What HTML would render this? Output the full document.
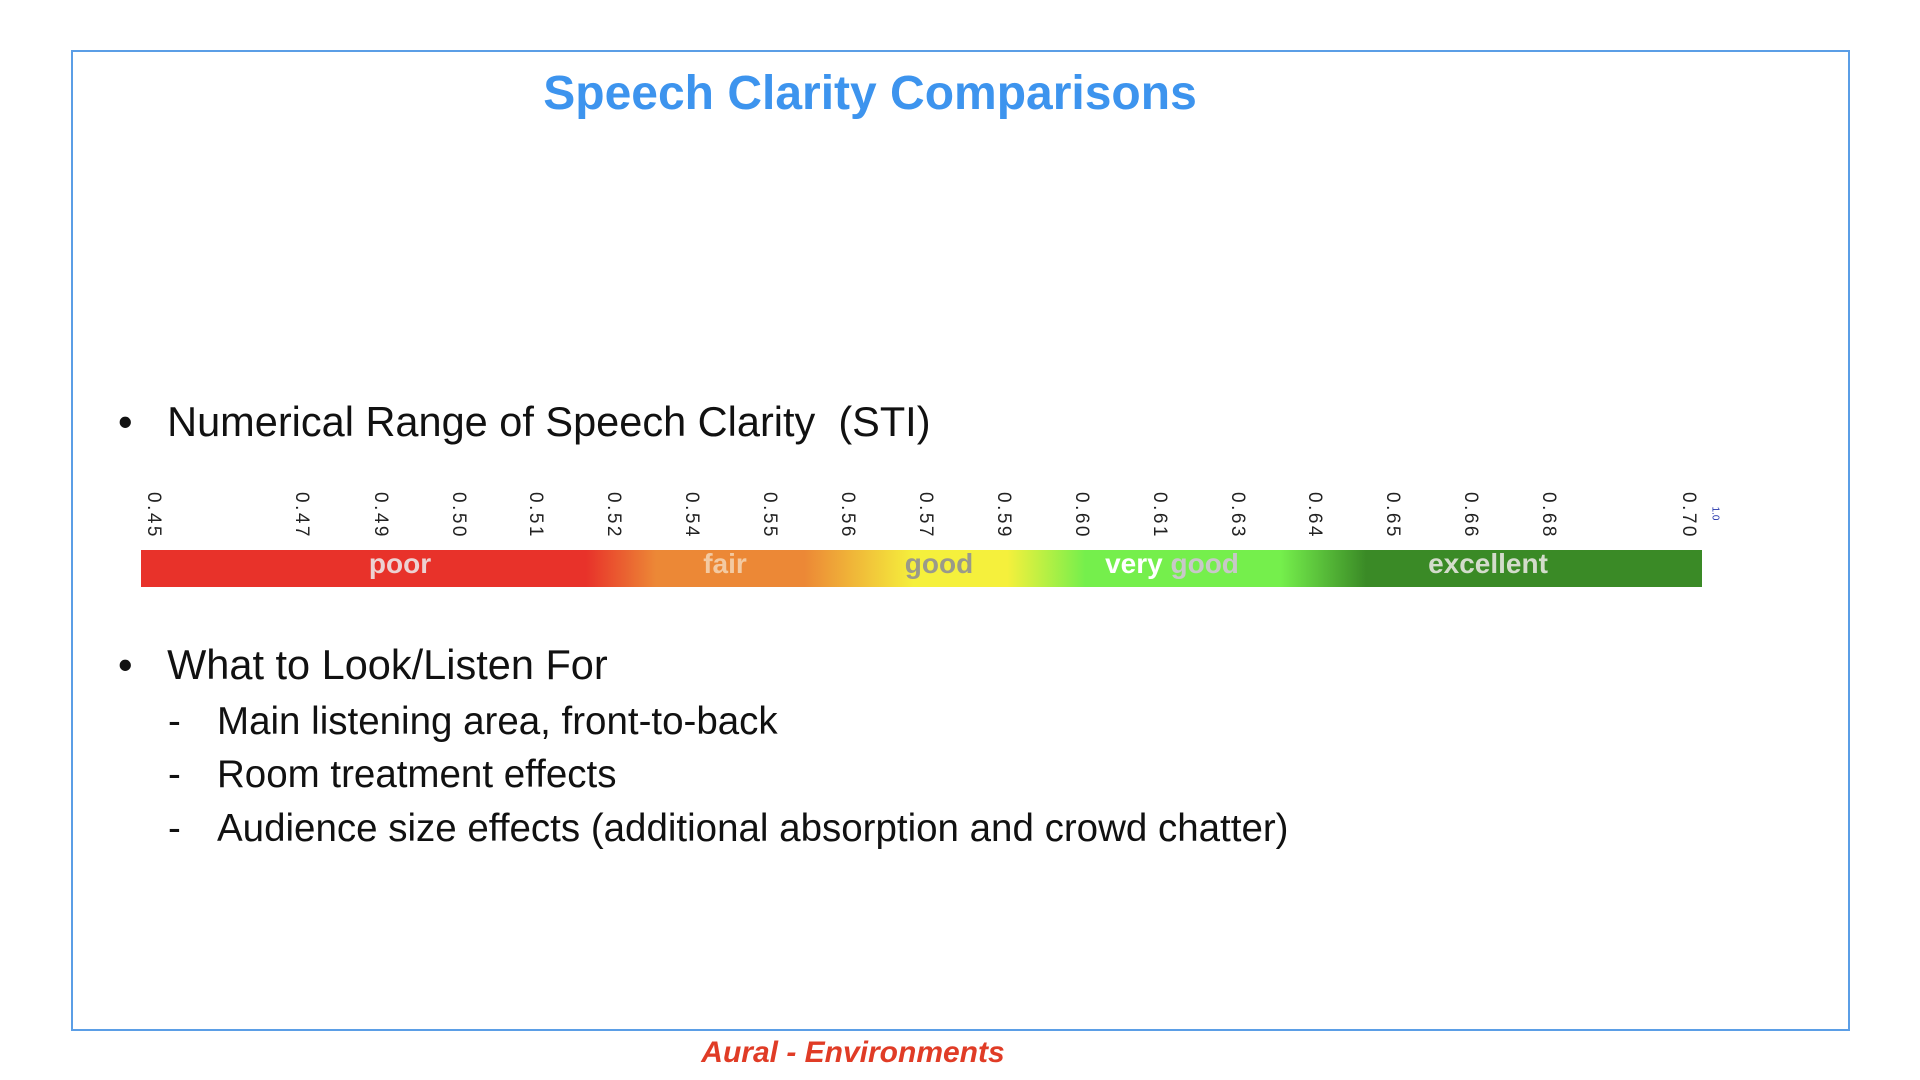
<!DOCTYPE html>
<html><head><meta charset="utf-8">
<style>
body{margin:0;width:1920px;height:1080px;background:#fff;font-family:"Liberation Sans",sans-serif;position:relative;overflow:hidden}
.abs{position:absolute}
#frame{left:71px;top:50px;width:1775px;height:977px;border:2px solid #5b9ee6}
#title{left:0;width:1740px;top:66px;text-align:center;font-weight:bold;font-size:48px;color:#3d94ee}
.b{font-size:41.5px;color:#111}
.s{font-size:38.5px;color:#111}
#bar{left:141px;top:550px;width:1561px;height:37px;background:linear-gradient(to right,#e8322a 0%,#e8322a 28.5%,#ec8836 33%,#ec8836 42.5%,#f5f03c 49.5%,#f5f03c 55.5%,#75ef4c 60.5%,#75ef4c 73%,#3a8a26 78.5%,#3a8a26 100%)}
.lab{top:548px;font-weight:bold;font-size:28px;transform:translateX(-50%);white-space:nowrap}
.tick{font-size:19px;color:#222;transform:rotate(90deg);transform-origin:0 0;white-space:nowrap;letter-spacing:2.5px}
#footer{left:0;width:1706px;top:1036px;text-align:center;font-weight:bold;font-style:italic;font-size:30px;color:#e03c26}
</style></head><body>
<div id="frame" class="abs"></div>
<div id="title" class="abs">Speech Clarity Comparisons</div>
<div class="abs b" style="left:118px;top:398px">•&nbsp;&nbsp;&nbsp;Numerical Range of Speech Clarity&nbsp; (STI)</div>
<div id="bar" class="abs"></div>
<div class="abs lab" style="left:400px;color:#ecd2d2">poor</div>
<div class="abs lab" style="left:725px;color:#f3caa2">fair</div>
<div class="abs lab" style="left:939px;color:#9a9a8a">good</div>
<div class="abs lab" style="left:1172px;color:#fff">very <span style="color:#c8c8c8">good</span></div>
<div class="abs lab" style="left:1488px;color:#d3dccb">excellent</div>
<div id="ticks"></div>
<div class="abs" style="left:1708px;top:508px;font-size:10px;color:#2233aa;transform:rotate(90deg)">1.0</div>
<div class="abs b" style="left:118px;top:641px">•&nbsp;&nbsp;&nbsp;What to Look/Listen For</div>
<div class="abs s" style="left:168px;top:700px">-</div>
<div class="abs s" style="left:217px;top:700px">Main listening area, front-to-back</div>
<div class="abs s" style="left:168px;top:753px">-</div>
<div class="abs s" style="left:217px;top:753px">Room treatment effects</div>
<div class="abs s" style="left:168px;top:807px">-</div>
<div class="abs s" style="left:217px;top:807px">Audience size effects (additional absorption and crowd chatter)</div>
<div id="footer" class="abs">Aural - Environments</div>
<script>
const tickLabels=["0.45","0.47","0.49","0.50","0.51","0.52","0.54","0.55","0.56","0.57","0.59","0.60","0.61","0.63","0.64","0.65","0.66","0.68","0.70"];
const tickSlots=[0,1.9,2.91,3.91,4.91,5.91,6.91,7.91,8.91,9.91,10.91,11.91,12.91,13.91,14.91,15.91,16.91,17.91,19.7];
function xScale(s){return 153+s*77.9;}
const host=document.getElementById('ticks');
tickLabels.forEach((t,i)=>{
  const el=document.createElement('div');
  
  
  el.className='abs tick';
  el.textContent=t;
  el.style.left=(xScale(tickSlots[i])+11)+'px';
  el.style.top='492px';
  host.appendChild(el);
});
</script>
</body></html>
